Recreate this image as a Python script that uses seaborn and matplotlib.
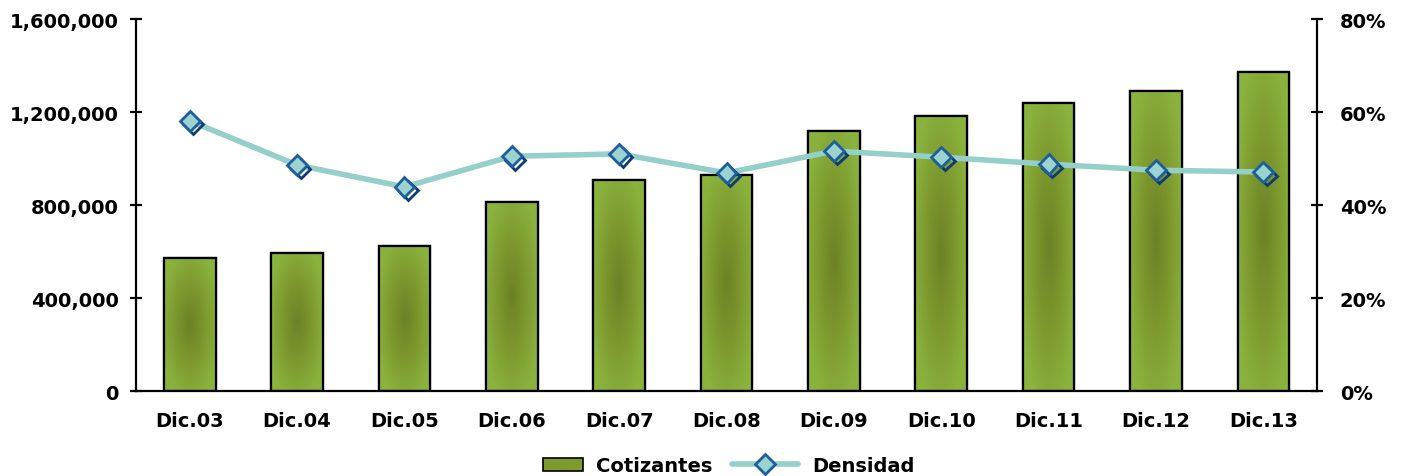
import numpy as np
import pandas as pd
import matplotlib
matplotlib.use("Agg")
import matplotlib.pyplot as plt
import matplotlib.patheffects as pe
from matplotlib.lines import Line2D
from matplotlib.patches import Patch
from matplotlib.colors import LinearSegmentedColormap
from matplotlib.legend_handler import HandlerPatch
import seaborn as sns

categories = ["Dic.03", "Dic.04", "Dic.05", "Dic.06", "Dic.07", "Dic.08",
              "Dic.09", "Dic.10", "Dic.11", "Dic.12", "Dic.13"]
cotizantes = [572000, 594000, 624000, 813000, 907000, 929000,
              1118000, 1183000, 1239000, 1290000, 1372000]
densidad = [58.1, 48.6, 43.9, 50.5, 51.0, 46.9, 51.6, 50.3, 48.8, 47.5, 47.1]
left_ticks = [0, 400000, 800000, 1200000, 1600000]
right_ticks = [0, 20, 40, 60, 80]

sns.set_theme(style="white")
plt.rcParams['font.family'] = ['DejaVu Sans']
plt.rcParams['font.weight'] = 'bold'
plt.rcParams['text.color'] = 'black'
plt.rcParams['xtick.color'] = 'black'
plt.rcParams['ytick.color'] = 'black'
plt.rcParams['axes.labelcolor'] = 'black'
FS = 14

df = pd.DataFrame({"cat": categories, "cot": cotizantes, "den": densidad})

fig = plt.figure(figsize=(14.03, 4.77), dpi=100)
ax = fig.add_axes([0.097, 0.178, 0.8417, 0.78])

BAR_GREEN = "#8ab23d"
sns.barplot(data=df, x="cat", y="cot", ax=ax, color=BAR_GREEN, width=0.48,
            edgecolor="black", linewidth=1.6, saturation=1)

# radial gradient texture on each bar
cmap = LinearSegmentedColormap.from_list("g", ["#6c8226", "#7d982e", "#8ab23d"])
for p in ax.patches:
    x0, y0 = p.get_x(), p.get_y()
    w, h = p.get_width(), p.get_height()
    ny, nx = 240, 60
    yy, xx = np.mgrid[0:1:ny * 1j, 0:1:nx * 1j]
    r = np.sqrt(((xx - 0.5) / 0.5) ** 2 + ((yy - 0.5) / 0.5) ** 2) / 1.15
    val = np.clip(r, 0, 1)
    im = ax.imshow(val, extent=[x0, x0 + w, y0, y0 + h], origin="lower",
                   cmap=cmap, vmin=0, vmax=1, aspect="auto", zorder=p.get_zorder() + 0.1,
                   interpolation="bilinear")
    im.set_clip_path(p)
    border = plt.Rectangle((x0, y0), w, h, fill=False, edgecolor="black",
                           linewidth=1.6, zorder=p.get_zorder() + 0.2)
    ax.add_patch(border)

ax.set_xlim(-0.5, len(categories) - 0.5)
ax.set_ylim(0, 1600000)
ax.set_yticks(left_ticks)
ax.set_yticklabels([f"{v:,}" for v in left_ticks], fontsize=FS, fontweight="bold")
ax.set_xticks(range(len(categories)))
ax.set_xticklabels(categories, fontsize=FS, fontweight="bold")
ax.tick_params(axis="x", which="major", length=0, pad=14)
ax.set_xticks(np.arange(-0.5, len(categories), 1.0), minor=True)
ax.tick_params(axis="x", which="minor", length=7, width=1.6, direction="out", color="black")
ax.tick_params(axis="y", length=9, width=1.6, direction="inout", color="black", pad=8)
ax.set_xlabel("")
ax.set_ylabel("")
for s in ["top", "right"]:
    ax.spines[s].set_visible(False)
for s in ["left", "bottom"]:
    ax.spines[s].set_color("black")
    ax.spines[s].set_linewidth(1.6)

ax2 = ax.twinx()
LINE_C = "#95cfca"
sns.lineplot(x=list(range(len(categories))), y=densidad, ax=ax2, color=LINE_C,
             linewidth=4, zorder=3)
ax2.plot(range(len(categories)), densidad, linestyle="none", marker="D", markersize=10,
         markerfacecolor="#9dd3cf", markeredgecolor="#1d5e9e", markeredgewidth=2,
         zorder=4,
         path_effects=[pe.SimpleLineShadow(offset=(2.5, -2.5), shadow_color="#0c3b78", alpha=1, rho=1),
                       pe.Normal()])
ax2.set_ylim(0, 80)
ax2.set_yticks(right_ticks)
ax2.set_yticklabels([f"{v}%" for v in right_ticks], fontsize=FS, fontweight="bold")
ax2.tick_params(axis="y", length=9, width=1.6, direction="inout", color="black", pad=12)
for s in ["top", "left", "bottom"]:
    ax2.spines[s].set_visible(False)
ax2.spines["right"].set_color("black")
ax2.spines["right"].set_linewidth(1.6)
ax2.set_ylabel("")
ax2.grid(False)
ax.grid(False)


class ShortPatch(HandlerPatch):
    def create_artists(self, legend, orig_handle, xdescent, ydescent, width, height, fontsize, trans):
        w = width * 0.6
        r = plt.Rectangle((width - w - xdescent, -ydescent), w, height,
                          facecolor=orig_handle.get_facecolor(), edgecolor="black",
                          linewidth=1.2, transform=trans)
        return [r]


handles = [Patch(facecolor="#7f9a2e", edgecolor="black", linewidth=1.2, label="Cotizantes"),
           Line2D([0], [0], color=LINE_C, linewidth=4, marker="D", markersize=10,
                  markerfacecolor="#9dd3cf", markeredgecolor="#1d5e9e", markeredgewidth=2,
                  label="Densidad")]
fig.legend(handles=handles, loc="lower center", bbox_to_anchor=(0.51, -0.035), ncol=2,
           frameon=False, prop={"size": FS, "weight": "bold"}, handlelength=3.4,
           columnspacing=1.0, handletextpad=0.7,
           handler_map={Patch: ShortPatch()})

fig.savefig("out.png", dpi=100)
